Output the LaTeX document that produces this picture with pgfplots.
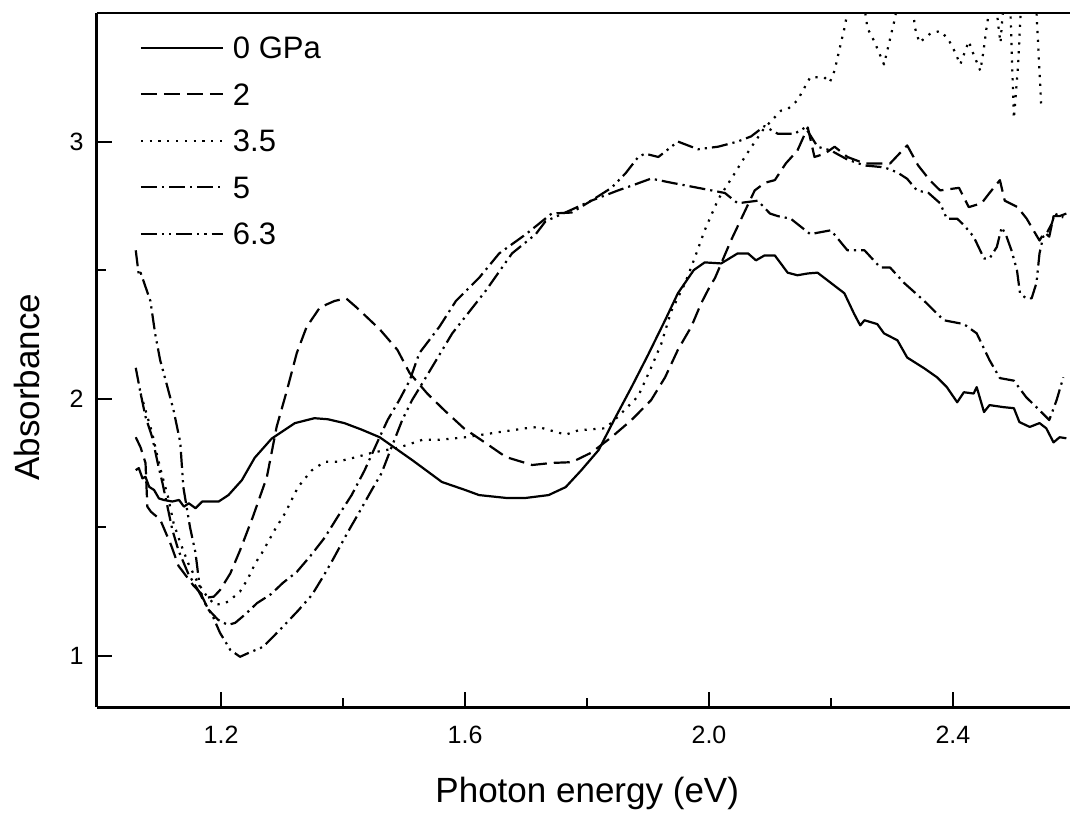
\documentclass[border=0pt]{standalone}
\usepackage{fontspec}
\setmainfont{Liberation Sans}
\usepackage{pgfplots}
\pgfplotsset{compat=1.18}

\tikzset{
  s0/.style={black, line width=1.1pt, line join=round},
  s2/.style={black, line width=1.1pt, line join=round, dash pattern=on 8pt off 3.5pt},
  s35/.style={black, line width=1.1pt, line join=round, dash pattern=on 1.1pt off 3.3pt},
  s5/.style={black, line width=1.1pt, line join=round, dash pattern=on 8pt off 2.5pt on 1.1pt off 2.5pt},
  s63/.style={black, line width=1.1pt, line join=round, dash pattern=on 8pt off 2.5pt on 1.1pt off 2.5pt on 1.1pt off 2.5pt},
}

\begin{document}
\begin{tikzpicture}
\begin{axis}[
  scale only axis, width=486.5pt, height=347pt,
  xmin=0.996, xmax=2.592, ymin=0.8, ymax=3.5,
  axis x line=box, axis y line=left,
  axis line style={-, line width=1.3pt},
  x axis line style={-}, y axis line style={-},
  xtick pos=left, ytick pos=left,
  tick align=inside,
  major tick length=7.5pt, minor tick length=4.5pt,
  tick style={line width=1pt, black},
  xtick={1.2,1.6,2.0,2.4}, xticklabels={1.2,1.6,2.0,2.4},
  minor xtick={1.4,1.8,2.2},
  ytick={1,2,3}, yticklabels={1,2,3},
  minor ytick={1.5,2.5},
  tick label style={font=\fontsize{12.5}{15}\selectfont},
  xticklabel style={yshift=-6pt},
  yticklabel style={xshift=-3pt},
  xlabel={Photon energy (eV)},
  ylabel={Absorbance},
  label style={font=\fontsize{17.5}{20}\selectfont},
  xlabel style={at={(axis description cs:0.504,-0.1369)}, anchor=base},
  ylabel style={at={(axis description cs:-0.0586,0.461)}, anchor=base, rotate=0},
  legend style={draw=none, fill=none, inner sep=0pt, outer sep=0pt,
    at={(axis description cs:0.0442,0.9654)}, anchor=north west,
    row sep=12.45pt, column sep=4.5pt,
    nodes={inner sep=0pt, text height=10.8pt, text depth=0pt},
    font=\fontsize{15.5}{18}\selectfont},
  legend cell align=left,
  legend image code/.code={\draw[#1] (0pt,0pt) -- (41pt,0pt);},
  clip=true,
]

\addplot[s0] coordinates {
(1.060,1.722) (1.065,1.73) (1.071,1.69) (1.076,1.696) (1.082,1.657) (1.090,1.645)
(1.098,1.612) (1.106,1.606) (1.120,1.60) (1.131,1.606) (1.139,1.58) (1.147,1.593)
(1.158,1.574) (1.169,1.60) (1.185,1.60) (1.196,1.60) (1.212,1.625) (1.234,1.683)
(1.255,1.77) (1.283,1.845) (1.321,1.905) (1.353,1.924) (1.375,1.92) (1.402,1.905)
(1.43,1.88) (1.46,1.85) (1.49,1.80) (1.514,1.76) (1.562,1.676) (1.60,1.645)
(1.623,1.625) (1.667,1.614) (1.70,1.614) (1.737,1.625) (1.765,1.656) (1.79,1.72)
(1.819,1.80) (1.845,1.92) (1.873,2.045) (1.90,2.17) (1.928,2.305) (1.949,2.41)
(1.975,2.50) (1.993,2.53) (2.02,2.526) (2.047,2.565) (2.064,2.565) (2.077,2.538)
(2.091,2.557) (2.108,2.557) (2.129,2.49) (2.145,2.48) (2.162,2.487) (2.178,2.49)
(2.2,2.45) (2.222,2.41) (2.238,2.33) (2.248,2.285) (2.255,2.305) (2.276,2.29)
(2.287,2.254) (2.309,2.227) (2.325,2.16) (2.353,2.118) (2.374,2.083) (2.39,2.045)
(2.407,1.986) (2.418,2.025) (2.434,2.02) (2.439,2.045) (2.451,1.948) (2.46,1.975)
(2.483,1.967) (2.5,1.963) (2.509,1.909) (2.526,1.89) (2.542,1.905) (2.553,1.885)
(2.565,1.83) (2.575,1.85) (2.586,1.846)
};
\addlegendentry{0 GPa}

\addplot[s2] coordinates {
(1.060,1.85) (1.068,1.81) (1.076,1.75) (1.079,1.58) (1.085,1.56) (1.10,1.53)
(1.118,1.43) (1.13,1.35) (1.154,1.275) (1.174,1.225) (1.188,1.23) (1.198,1.255)
(1.215,1.32) (1.231,1.41) (1.252,1.54) (1.275,1.695) (1.291,1.89) (1.308,2.033)
(1.324,2.177) (1.34,2.278) (1.362,2.355) (1.386,2.38) (1.405,2.39) (1.422,2.355)
(1.46,2.27) (1.489,2.19) (1.509,2.10) (1.538,2.02) (1.566,1.955) (1.598,1.885)
(1.634,1.827) (1.667,1.773) (1.71,1.742) (1.742,1.75) (1.775,1.753) (1.807,1.79)
(1.84,1.85) (1.873,1.917) (1.905,1.994) (1.928,2.083) (1.949,2.19) (1.971,2.28)
(1.987,2.37) (2.0,2.43) (2.01,2.47) (2.036,2.615) (2.059,2.73) (2.075,2.81)
(2.092,2.84) (2.108,2.85) (2.126,2.915) (2.145,2.965) (2.162,3.055) (2.173,2.94)
(2.19,2.953) (2.206,2.98) (2.227,2.94) (2.255,2.915) (2.276,2.915) (2.297,2.915)
(2.325,2.985) (2.343,2.907) (2.362,2.85) (2.379,2.81) (2.41,2.82) (2.426,2.745)
(2.447,2.76) (2.46,2.80) (2.477,2.85) (2.485,2.77) (2.506,2.745) (2.521,2.70)
(2.534,2.647) (2.542,2.615) (2.55,2.647) (2.558,2.63) (2.565,2.71) (2.575,2.71)
(2.586,2.72)
};
\addlegendentry{2}

\addplot[s35] coordinates {
(1.068,2.02) (1.076,1.955) (1.087,1.866) (1.096,1.77) (1.104,1.695) (1.113,1.617)
(1.122,1.516) (1.133,1.44) (1.146,1.36) (1.162,1.283) (1.177,1.23) (1.19,1.198)
(1.207,1.205) (1.215,1.217) (1.231,1.25) (1.244,1.30) (1.256,1.36) (1.267,1.40)
(1.288,1.49) (1.305,1.555) (1.326,1.656) (1.348,1.72) (1.37,1.755) (1.391,1.755)
(1.422,1.773) (1.448,1.79) (1.492,1.81) (1.53,1.84) (1.558,1.84) (1.601,1.85)
(1.656,1.87) (1.70,1.885) (1.72,1.89) (1.765,1.86) (1.786,1.877) (1.83,1.885)
(1.851,1.93) (1.884,2.01) (1.905,2.12) (1.922,2.215) (1.938,2.34) (1.961,2.45)
(1.977,2.55) (1.993,2.655) (2.015,2.775) (2.042,2.876) (2.055,2.926) (2.069,2.977)
(2.09,3.05) (2.118,3.12) (2.13,3.128) (2.145,3.16) (2.166,3.25) (2.189,3.25)
(2.198,3.23) (2.206,3.276) (2.216,3.38) (2.222,3.44) (2.235,3.6) (2.25,3.6)
(2.26,3.44) (2.271,3.39) (2.287,3.30) (2.292,3.35) (2.304,3.47) (2.315,3.6)
(2.33,3.6) (2.338,3.44) (2.345,3.385) (2.363,3.42) (2.379,3.43) (2.392,3.40)
(2.403,3.35) (2.412,3.30) (2.426,3.39) (2.432,3.35) (2.445,3.275) (2.45,3.35)
(2.455,3.44) (2.462,3.55) (2.47,3.55) (2.475,3.44) (2.478,3.385) (2.485,3.6)
(2.493,3.6) (2.500,3.09) (2.507,3.3) (2.513,3.6) (2.535,3.6) (2.545,3.13)
};
\addlegendentry{3.5}

\addplot[s5] coordinates {
(1.060,2.12) (1.068,2.02) (1.076,1.93) (1.087,1.85) (1.096,1.75) (1.104,1.67)
(1.112,1.58) (1.12,1.49) (1.13,1.41) (1.146,1.32) (1.162,1.256) (1.179,1.18)
(1.195,1.14) (1.211,1.12) (1.223,1.128) (1.239,1.16) (1.259,1.205) (1.282,1.24)
(1.301,1.283) (1.324,1.326) (1.347,1.39) (1.37,1.46) (1.391,1.54) (1.414,1.625)
(1.435,1.72) (1.456,1.83) (1.473,1.917) (1.492,1.994) (1.509,2.07) (1.525,2.177)
(1.558,2.28) (1.585,2.38) (1.623,2.47) (1.656,2.565) (1.70,2.64) (1.742,2.72)
(1.775,2.724) (1.807,2.77) (1.851,2.81) (1.875,2.83) (1.905,2.856) (1.938,2.84)
(1.982,2.82) (2.026,2.80) (2.047,2.76) (2.08,2.77) (2.1,2.72) (2.113,2.71)
(2.134,2.70) (2.166,2.64) (2.2,2.655) (2.227,2.577) (2.255,2.577) (2.281,2.51)
(2.297,2.51) (2.32,2.45) (2.353,2.38) (2.385,2.305) (2.418,2.29) (2.439,2.254)
(2.46,2.15) (2.477,2.08) (2.5,2.07) (2.52,2.006) (2.542,1.955) (2.558,1.917)
(2.57,1.994) (2.581,2.083)
};
\addlegendentry{5}

\addplot[s63] coordinates {
(1.060,2.577) (1.065,2.48) (1.068,2.49) (1.084,2.38) (1.092,2.25) (1.10,2.15)
(1.112,2.045) (1.122,1.955) (1.133,1.83) (1.138,1.656) (1.149,1.50) (1.158,1.40)
(1.166,1.245) (1.177,1.19) (1.187,1.15) (1.198,1.09) (1.215,1.023) (1.231,0.996)
(1.244,1.01) (1.269,1.035) (1.296,1.10) (1.326,1.175) (1.349,1.237) (1.367,1.307)
(1.383,1.373) (1.407,1.478) (1.424,1.548) (1.447,1.645) (1.463,1.71) (1.476,1.79)
(1.497,1.917) (1.513,1.994) (1.53,2.06) (1.579,2.254) (1.634,2.42) (1.677,2.565)
(1.716,2.64) (1.732,2.69) (1.77,2.73) (1.807,2.77) (1.84,2.82) (1.863,2.876)
(1.884,2.94) (1.895,2.953) (1.917,2.94) (1.949,3.0) (1.982,2.97) (2.015,2.98)
(2.047,3.0) (2.069,3.02) (2.091,3.06) (2.113,3.03) (2.14,3.03) (2.158,3.055)
(2.178,2.98) (2.2,2.965) (2.227,2.93) (2.255,2.907) (2.287,2.90) (2.309,2.88)
(2.325,2.855) (2.341,2.81) (2.36,2.80) (2.379,2.76) (2.39,2.70) (2.407,2.70)
(2.418,2.675) (2.434,2.63) (2.442,2.59) (2.451,2.545) (2.46,2.545) (2.472,2.59)
(2.48,2.667) (2.488,2.63) (2.496,2.577) (2.505,2.50) (2.51,2.41) (2.52,2.39)
(2.529,2.39) (2.537,2.45) (2.542,2.565) (2.548,2.63) (2.553,2.64) (2.562,2.68)
(2.567,2.72) (2.575,2.71) (2.581,2.705)
};
\addlegendentry{6.3}

\end{axis}
\pgfresetboundingbox
\path[use as bounding box] ([xshift=-48.35pt,yshift=-53.5pt]current axis.south west)
  rectangle ([yshift=6.5pt]current axis.north east);
\end{tikzpicture}
\end{document}
